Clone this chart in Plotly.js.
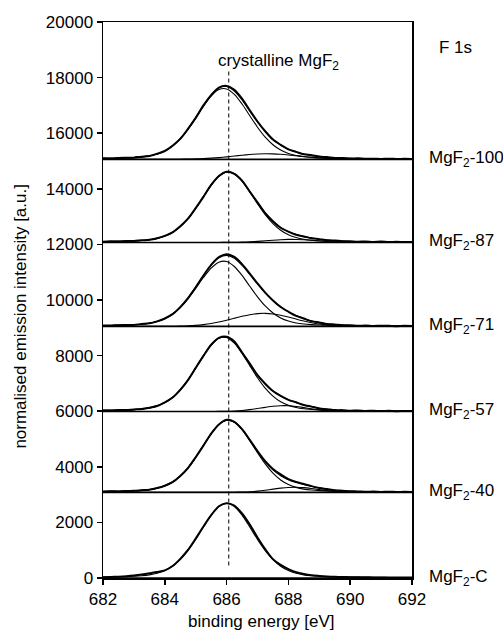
<!DOCTYPE html>
<html>
<head>
<meta charset="utf-8">
<script src="https://cdn.plot.ly/plotly-3.0.1.min.js"></script>
<style>
html,body{margin:0;padding:0;background:#fff;}
#chart{width:503px;height:633px;}
</style>
</head>
<body>
<div id="chart"></div>
<script>
// binding energy grid [eV]
const energy = [682, 682.25, 682.5, 682.75, 683, 683.25, 683.5, 683.75, 684, 684.25, 684.5, 684.75, 685, 685.25, 685.5, 685.75, 686, 686.25, 686.5, 686.75, 687, 687.25, 687.5, 687.75, 688, 688.25, 688.5, 688.75, 689, 689.25, 689.5, 689.75, 690, 690.25, 690.5, 690.75, 691, 691.25, 691.5, 691.75, 692];

// sample labels and vertical offsets (baselines) of the stacked spectra
const sampleLabels = ['MgF<sub>2</sub>-100', 'MgF<sub>2</sub>-87', 'MgF<sub>2</sub>-71', 'MgF<sub>2</sub>-57', 'MgF<sub>2</sub>-40', 'MgF<sub>2</sub>-C'];
const baselines = [15060, 12070, 9050, 5990, 3080, 0];

// MgF2-100
const exp100  = [40,30,48,55,60,95,120,200,300,490,735,1095,1490,1940,2310,2580,2640,2500,2180,1760,1360,1010,710,520,360,270,185,150,100,80,50,45,30,38,20,25,15,22,12,20,15];
const env100  = [33,38,43,51,64,87,125,191,304,481,742,1088,1500,1933,2319,2572,2621,2456,2136,1741,1347,998,721,513,367,264,192,142,104,75,57,44,35,30,25,23,20,19,18,17,15];
const main100 = [33,38,43,51,64,87,125,191,303,479,737,1079,1484,1907,2277,2509,2532,2338,1989,1568,1155,798,525,332,209,135,92,69,54,43,38,33,29,27,24,23,20,19,18,17,15];
const comp100 = [0,0,0,0,0,0,0,0,1,2,5,9,16,26,42,63,89,118,147,173,192,200,196,181,158,129,100,73,50,32,19,11,6,3,1,0,0,0,0,0,0];

// MgF2-87
const exp87  = [25,40,35,50,52,78,95,150,235,360,580,855,1235,1640,2070,2390,2545,2470,2225,1830,1440,1050,765,530,390,275,215,150,120,80,70,45,40,25,35,20,30,15,25,12,18];
const env87  = [30,36,39,46,56,71,99,147,231,363,572,861,1229,1648,2060,2384,2538,2475,2217,1839,1433,1060,757,536,383,283,210,158,116,83,62,48,37,31,28,24,22,20,18,17,15];
const main87 = [30,36,39,46,56,71,99,147,231,363,572,861,1229,1648,2060,2383,2535,2469,2205,1816,1394,1001,676,437,274,175,114,81,61,48,41,37,32,29,27,24,22,20,18,17,15];
const comp87 = [0,0,0,0,0,0,0,0,0,0,0,0,0,0,0,1,3,6,12,23,39,59,81,99,109,108,96,77,55,35,21,11,5,2,1,0,0,0,0,0,0];

// MgF2-71
const exp71  = [35,30,45,50,55,85,110,180,285,440,695,1020,1410,1830,2215,2490,2600,2500,2240,1900,1545,1215,935,700,530,380,285,190,140,85,70,40,45,25,30,15,25,20,10,22,12];
const env71  = [31,35,40,47,59,80,116,177,282,447,689,1014,1405,1822,2202,2468,2555,2448,2196,1867,1525,1206,932,707,529,389,279,196,135,92,64,47,35,29,24,22,19,18,16,15,14];
const main71 = [31,35,40,47,59,80,115,176,280,442,679,994,1368,1758,2099,2312,2334,2155,1833,1445,1065,736,484,306,193,125,85,63,49,40,35,31,27,25,22,21,19,18,16,15,14];
const comp71 = [0,0,0,0,0,0,1,1,2,5,10,20,37,64,103,156,221,293,363,422,460,470,448,401,336,264,194,133,86,52,29,16,8,4,2,1,0,0,0,0,0];

// MgF2-57
const exp57  = [40,35,50,50,72,88,135,195,325,500,780,1130,1570,2000,2400,2650,2690,2520,2120,1720,1310,1000,735,560,420,330,230,175,110,85,50,48,28,35,20,28,15,24,12,20,14];
const env57  = [35,40,46,54,67,91,131,201,319,504,775,1134,1560,2005,2394,2640,2669,2476,2127,1714,1319,988,739,556,426,322,236,169,115,78,55,42,34,29,25,24,21,20,19,17,16];
const main57 = [35,40,46,54,67,91,131,201,319,504,775,1134,1560,2005,2393,2637,2661,2458,2090,1648,1214,839,552,348,220,142,96,72,56,46,40,35,31,28,25,24,21,20,19,17,16];
const comp57 = [0,0,0,0,0,0,0,0,0,0,0,0,0,0,1,3,8,18,37,66,105,149,187,208,206,180,140,97,59,32,15,7,3,1,0,0,0,0,0,0,0];

// MgF2-40
const exp40  = [28,40,36,52,55,78,98,155,240,368,590,875,1265,1680,2115,2445,2610,2540,2275,1890,1485,1120,840,650,480,375,300,225,160,120,75,60,38,35,22,28,18,24,14,20,15];
const env40  = [31,36,40,47,57,73,101,151,237,372,585,881,1258,1687,2109,2439,2597,2532,2269,1884,1473,1102,808,599,459,364,287,221,162,113,79,56,41,33,28,25,22,21,19,17,16];
const main40 = [31,36,40,47,57,73,101,151,237,372,585,881,1258,1687,2109,2439,2595,2527,2257,1859,1427,1024,692,447,281,179,117,83,62,49,42,38,33,30,27,25,22,21,19,17,16];
const comp40 = [0,0,0,0,0,0,0,0,0,0,0,0,0,0,0,0,2,5,12,25,46,78,116,152,178,185,170,138,100,64,37,18,8,3,1,0,0,0,0,0,0];

// MgF2-C
const expC  = [25,35,48,65,90,125,170,215,275,430,690,1010,1420,1850,2260,2580,2690,2600,2320,1920,1460,1040,680,470,320,210,145,100,75,55,42,35,30,28,25,22,22,20,18,18,15];
const mainC = [32,38,43,48,62,81,113,169,266,422,659,985,1388,1835,2260,2572,2690,2572,2260,1835,1388,985,659,422,266,169,113,81,62,48,43,38,32,30,27,24,22,20,18,17,15];

// crystalline MgF2 reference position
const crystallineE = 686.07;
const refLineSpan = [450, 18300];

const expSet  = [exp100, exp87, exp71, exp57, exp40, expC];
const envSet  = [env100, env87, env71, env57, env40, null];
const mainSet = [main100, main87, main71, main57, main40, mainC];
const compSet = [comp100, comp87, comp71, comp57, comp40, null];

const xRange = [energy[0], energy[energy.length - 1]];
const traces = [];
const shift = (arr, b) => arr.map(v => v + b);
const thin = {color: '#000', width: 1.1, shape: 'spline', smoothing: 0.8};
const thick = {color: '#000', width: 2, shape: 'spline', smoothing: 0.8};

baselines.forEach((b, i) => {
  traces.push({x: xRange, y: [b, b], mode: 'lines', line: {color: '#000', width: 1.6}, hoverinfo: 'skip'});
  if (compSet[i]) traces.push({x: energy, y: shift(compSet[i], b), mode: 'lines', line: thin, hoverinfo: 'skip'});
  traces.push({x: energy, y: shift(mainSet[i], b), mode: 'lines', line: thin, hoverinfo: 'skip'});
  if (envSet[i]) traces.push({x: energy, y: shift(envSet[i], b), mode: 'lines', line: thin, hoverinfo: 'skip'});
  traces.push({x: energy, y: shift(expSet[i], b), mode: 'lines', line: thick, hoverinfo: 'skip'});
});

traces.push({x: [crystallineE, crystallineE], y: refLineSpan, mode: 'lines',
  line: {color: '#000', width: 1, dash: '4px,3px'}, hoverinfo: 'skip'});

const font = {family: 'Arial, "Liberation Sans", sans-serif', size: 17, color: '#000'};

const annotations = sampleLabels.map((t, i) => ({
  text: t, x: 1.0485, y: baselines[i], xref: 'paper', yref: 'y',
  xanchor: 'left', yanchor: 'middle', showarrow: false, font: font
}));
annotations.push({text: 'F 1s', x: 1.081, y: 19065, xref: 'paper', yref: 'y', xanchor: 'left', yanchor: 'middle', showarrow: false, font: font});
annotations.push({text: 'crystalline MgF<sub>2</sub>', x: 687.67, y: 18561, xref: 'x', yref: 'y', xanchor: 'center', yanchor: 'middle', showarrow: false, font: font});
annotations.push({text: 'binding energy [eV]', x: 0.512, y: -0.079, xref: 'paper', yref: 'paper', xanchor: 'center', yanchor: 'middle', showarrow: false, font: font});
annotations.push({text: 'normalised emission intensity [a.u.]', x: -0.267, y: 0.471, xref: 'paper', yref: 'paper', xanchor: 'center', yanchor: 'middle', textangle: -90, showarrow: false, font: font});

const axisCommon = {
  showgrid: false, zeroline: false, showline: true, mirror: true,
  linecolor: '#000', linewidth: 1.5, ticks: 'outside', ticklen: 5,
  tickwidth: 1.5, tickcolor: '#000', tickfont: font
};

const layout = {
  width: 503, height: 633,
  margin: {l: 103, r: 91, t: 22, b: 55},
  paper_bgcolor: '#fff', plot_bgcolor: '#fff',
  showlegend: false, hovermode: false,
  font: font,
  xaxis: Object.assign({}, axisCommon, {range: [682, 692], tick0: 682, dtick: 2, tickformat: 'd'}),
  yaxis: Object.assign({}, axisCommon, {range: [0, 20000], tick0: 0, dtick: 2000, tickformat: 'd'}),
  annotations: annotations
};

Plotly.newPlot('chart', traces, layout, {staticPlot: true, displayModeBar: false});
</script>
</body>
</html>
